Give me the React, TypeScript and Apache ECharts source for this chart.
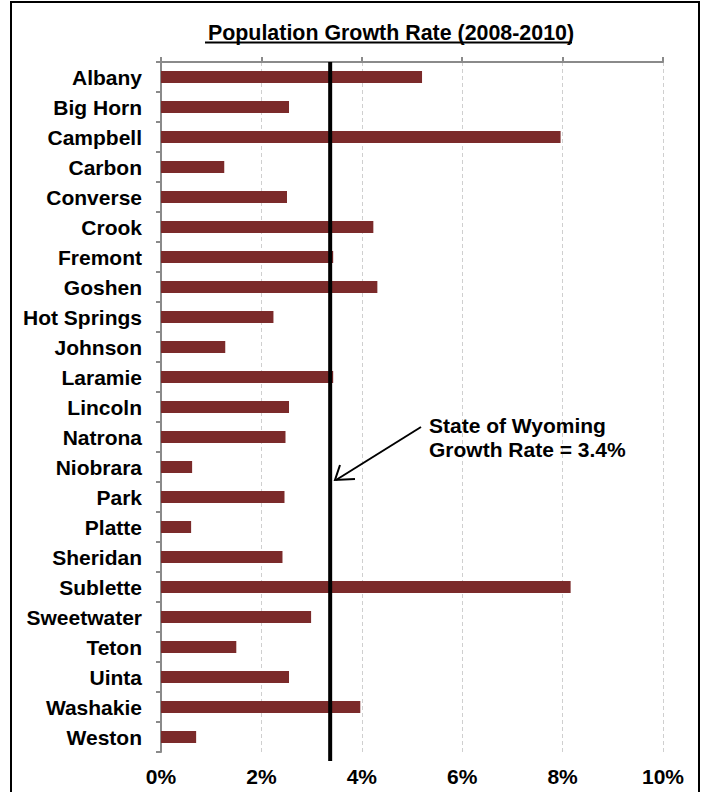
import React, { useEffect, useRef } from "react";
import * as echarts from "echarts";

const categories = [
  "Albany", "Big Horn", "Campbell", "Carbon", "Converse", "Crook", "Fremont",
  "Goshen", "Hot Springs", "Johnson", "Laramie", "Lincoln", "Natrona",
  "Niobrara", "Park", "Platte", "Sheridan", "Sublette", "Sweetwater",
  "Teton", "Uinta", "Washakie", "Weston",
];
const growthRates = [
  5.2, 2.55, 7.96, 1.26, 2.51, 4.23, 3.43, 4.31, 2.24, 1.28, 3.43, 2.55, 2.48,
  0.62, 2.46, 0.6, 2.42, 8.16, 2.99, 1.5, 2.55, 3.97, 0.7,
];
const stateRate = 3.37;
const xTicks = { min: 0, max: 10, interval: 2 };
const titleText = "Population Growth Rate (2008-2010)";
const noteLines = ["State of Wyoming", "Growth Rate = 3.4%"];

const FONT = "'Liberation Sans', Arial, sans-serif";

export default function App() {
  const ref = useRef<HTMLDivElement>(null);
  useEffect(() => {
    if (!ref.current) return;
    const chart = echarts.init(ref.current, null, { renderer: "svg" });
    const gridTop = 62;
    const gridBottom = 40;
    chart.setOption({
      animation: false,
      backgroundColor: "#ffffff",
      textStyle: { fontFamily: FONT },
      grid: { left: 161, right: 40, top: gridTop, bottom: gridBottom, containLabel: false },
      xAxis: [
        {
          type: "value",
          position: "top",
          min: xTicks.min,
          max: xTicks.max,
          interval: xTicks.interval,
          axisLine: { show: true, lineStyle: { color: "#8a8a8a", width: 2 } },
          axisTick: { show: true, length: 5, lineStyle: { color: "#8a8a8a", width: 2 } },
          axisLabel: { show: false },
          splitLine: { show: true, lineStyle: { color: "#cfcfcf", type: [4, 3], width: 1 } },
        },
        {
          type: "value",
          position: "bottom",
          min: xTicks.min,
          max: xTicks.max,
          interval: xTicks.interval,
          axisLine: { show: false },
          axisTick: { show: false },
          splitLine: { show: false },
          axisLabel: {
            show: true,
            formatter: "{value}%",
            fontFamily: FONT,
            fontWeight: "bold",
            fontSize: 21,
            color: "#000",
            margin: 14,
          },
        },
      ],
      yAxis: {
        type: "category",
        inverse: true,
        data: categories,
        axisLine: { show: true, lineStyle: { color: "#8a8a8a", width: 2 } },
        axisTick: { show: true, length: 5, lineStyle: { color: "#8a8a8a", width: 2 } },
        axisLabel: {
          fontFamily: FONT,
          fontWeight: "bold",
          fontSize: 21,
          color: "#000",
          margin: 19,
          padding: [0, 0, 2, 0],
        },
        splitLine: { show: false },
      },
      title: {
        text: titleText,
        left: 386,
        top: 17,
        textAlign: "center",
        textStyle: { fontFamily: FONT, fontWeight: "bold", fontSize: 21.4, color: "#000" },
      },
      series: [
        {
          type: "bar",
          xAxisIndex: 0,
          data: growthRates,
          barCategoryGap: "60%",
          itemStyle: { color: "#7B2A2A" },
        },
      ],
    });

    const x = chart.convertToPixel({ xAxisIndex: 0 }, stateRate) as number;
    const h = chart.getHeight();
    const noteStyle = {
      fontFamily: FONT,
      fontWeight: "bold",
      fontSize: 21,
      fill: "#000",
      verticalAlign: "alphabetic",
    };
    chart.setOption({
      graphic: [
        {
          type: "rect",
          shape: { x: 11, y: 2, width: 688, height: 900 },
          style: { fill: "none", stroke: "#000", lineWidth: 2 },
          silent: true,
        },
        {
          type: "line",
          shape: { x1: 205, y1: 42.5, x2: 572, y2: 42.5 },
          style: { stroke: "#000", lineWidth: 2 },
        },
        {
          type: "line",
          shape: { x1: x, y1: gridTop, x2: x, y2: h - gridBottom + 9 },
          style: { stroke: "#000", lineWidth: 4 },
          z: 10,
        },
        {
          type: "line",
          shape: { x1: 421, y1: 427, x2: 336, y2: 480 },
          style: { stroke: "#000", lineWidth: 2 },
          z: 10,
        },
        {
          type: "polyline",
          shape: { points: [[340, 465], [335, 480], [355, 479]] },
          style: { stroke: "#000", lineWidth: 2, fill: "none" },
          z: 10,
        },
        { type: "text", x: 429, y: 415, style: { ...noteStyle, text: noteLines[0] }, z: 10 },
        { type: "text", x: 429, y: 439, style: { ...noteStyle, text: noteLines[1] }, z: 10 },
      ],
    });
    return () => chart.dispose();
  }, []);
  return (
    <div
      ref={ref}
      style={{ position: "fixed", left: 0, top: 0, width: 703, height: 792, background: "#fff" }}
    />
  );
}
